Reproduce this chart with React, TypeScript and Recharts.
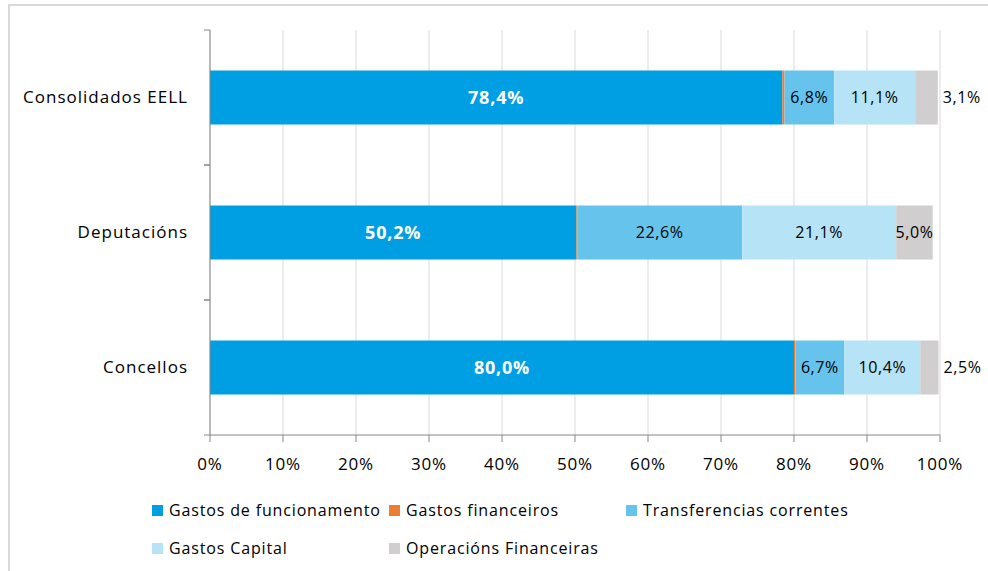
import React from 'react';
import {
  BarChart,
  Bar,
  XAxis,
  YAxis,
  CartesianGrid,
  LabelList,
} from 'recharts';

const categories = ['Consolidados EELL', 'Deputacións', 'Concellos'];
const funcionamento = [78.4, 50.2, 80.0];
const financeiros = [0.3, 0.1, 0.2];
const transferencias = [6.8, 22.6, 6.7];
const capital = [11.1, 21.1, 10.4];
const operacions = [3.1, 5.0, 2.5];
const xTicks = [0, 10, 20, 30, 40, 50, 60, 70, 80, 90, 100];

const series = [
  { key: 'funcionamento', name: 'Gastos de funcionamento', color: '#009FE3' },
  { key: 'financeiros', name: 'Gastos financeiros', color: '#ED7D31' },
  { key: 'transferencias', name: 'Transferencias correntes', color: '#66C4EC' },
  { key: 'capital', name: 'Gastos Capital', color: '#B6E3F6' },
  { key: 'operacions', name: 'Operacións Financeiras', color: '#D0CECE' },
];

const data = categories.map((name, i) => ({
  name,
  funcionamento: funcionamento[i],
  financeiros: financeiros[i],
  transferencias: transferencias[i],
  capital: capital[i],
  operacions: operacions[i],
}));

const FONT = '"Open Sans", "Noto Sans", sans-serif';
const AXIS = '#868686';

const fmt = (v: number) => v.toFixed(1).replace('.', ',') + '%';

const CategoryTick = (props: any) => {
  const { x, y, payload } = props;
  const half = payload.offset || 0;
  return (
    <g>
      <text
        x={x - 22}
        y={y}
        dy="0.35em"
        textAnchor="end"
        fontSize={17}
        letterSpacing={1}
        fontFamily={FONT}
        fill="#000"
      >
        {payload.value}
      </text>
      <line x1={x - 6} x2={x} y1={y - half} y2={y - half} stroke={AXIS} />
      <line x1={x - 6} x2={x} y1={y + half} y2={y + half} stroke={AXIS} />
    </g>
  );
};

const XTick = (props: any) => {
  const { x, y, payload } = props;
  return (
    <text
      x={x}
      y={y}
      dy="0.71em"
      textAnchor="middle"
      fontSize={17}
      letterSpacing={0.8}
      fontFamily={FONT}
      fill="#000"
    >
      {`${payload.value}%`}
    </text>
  );
};

const makeLabel = (opts: { bold?: boolean; white?: boolean; outside?: boolean }) =>
  (props: any) => {
    const { x, y, width, height, value } = props;
    const outside = opts.outside && width < 30;
    return (
      <text
        x={outside ? x + width + 5 : x + width / 2}
        y={y + height / 2}
        dy="0.35em"
        textAnchor={outside ? 'start' : 'middle'}
        fontSize={opts.bold ? 18 : 16}
        letterSpacing={opts.bold ? 0.8 : 0.6}
        fontWeight={opts.bold ? 'bold' : 'normal'}
        fontFamily={FONT}
        fill={opts.white ? '#fff' : '#000'}
      >
        {fmt(value)}
      </text>
    );
  };

export default function App() {
  return (
    <div
      style={{
        position: 'absolute',
        left: 0,
        top: 0,
        width: 988,
        height: 571,
        background: '#fff',
        overflow: 'hidden',
        fontFamily: FONT,
      }}
    >
      <div
        style={{
          position: 'absolute',
          left: 8,
          top: 4,
          width: 1000,
          height: 600,
          borderTop: '2px solid #D9D9D9',
          borderLeft: '2px solid #D9D9D9',
        }}
      />
      <div style={{ position: 'absolute', left: 0, top: 0 }}>
        <BarChart
          width={988}
          height={480}
          data={data}
          layout="vertical"
          margin={{ top: 30, right: 48, bottom: 0, left: 0 }}
          barCategoryGap="30%"
        >
          <CartesianGrid horizontal={false} stroke="#D9D9D9" />
          <XAxis
            type="number"
            domain={[0, 100]}
            ticks={xTicks}
            height={45}
            stroke={AXIS}
            tickSize={7}
            tickMargin={16}
            tick={<XTick />}
          />
          <YAxis
            type="category"
            dataKey="name"
            width={210}
            stroke={AXIS}
            tickLine={false}
            tickSize={0}
            tickMargin={0}
            tick={<CategoryTick />}
            interval={0}
          />
          {series.map((s, i) => (
            <Bar
              key={s.key}
              dataKey={s.key}
              name={s.name}
              stackId="a"
              fill={s.color}
              isAnimationActive={false}
            >
              {s.key !== 'financeiros' && (
                <LabelList
                  dataKey={s.key}
                  content={makeLabel({
                    bold: i === 0,
                    white: i === 0,
                    outside: s.key === 'operacions',
                  })}
                />
              )}
            </Bar>
          ))}
        </BarChart>
      </div>
      <div
        style={{
          position: 'absolute',
          left: 152,
          top: 491,
          width: 711,
          display: 'flex',
          flexWrap: 'wrap',
        }}
      >
        {series.map((s) => (
          <div
            key={s.key}
            style={{
              width: 237,
              height: 38,
              display: 'flex',
              alignItems: 'center',
              fontSize: 16,
              color: '#000',
              letterSpacing: 0.85,
              whiteSpace: 'nowrap',
            }}
          >
            <span
              style={{
                display: 'inline-block',
                width: 11,
                height: 11,
                background: s.color,
                marginRight: 6,
              }}
            />
            {s.name}
          </div>
        ))}
      </div>
    </div>
  );
}
